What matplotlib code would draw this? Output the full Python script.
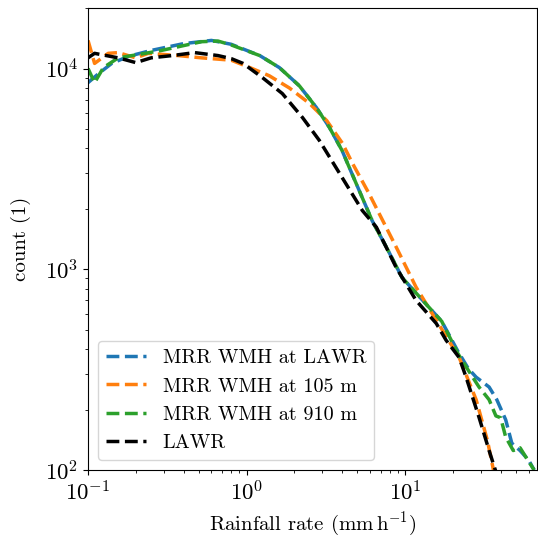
import numpy as np
import matplotlib
matplotlib.use("Agg")
from matplotlib import pyplot as plt

plt.rcParams["font.family"] = "cmr10"
plt.rcParams["mathtext.fontset"] = "cm"
plt.rcParams["axes.formatter.use_mathtext"] = True
plt.rcParams["font.size"] = 15
plt.rcParams["xtick.labelsize"] = 16.5
plt.rcParams["ytick.labelsize"] = 16.5
plt.rcParams["legend.fontsize"] = 14.5

# MRR WMH at LAWR
x_lawr_mrr = [0.1, 0.116, 0.141, 0.18, 0.25, 0.4, 0.6, 0.8, 1.21, 1.61, 2.15, 2.75, 3.33, 4.0,
              4.45, 6.2, 7.6, 9.55, 14.1, 17, 21.5, 25, 28, 33.8, 37.8, 43, 47, 53, 60, 65]
y_lawr_mrr = [8500, 9400, 10600, 11500, 12300, 13300, 13800, 13200, 11600, 10100, 8200, 6400, 5080, 3900,
              3200, 1740, 1290, 910, 647, 550, 390, 320, 290, 259, 224, 178, 136, 125, 112, 100]

# MRR WMH at 105 m
x_105 = [0.1, 0.11, 0.134, 0.155, 0.2, 0.24, 0.37, 0.52, 0.8, 1.05, 1.39, 1.86, 2.49, 3.2,
         4.02, 4.65, 5.9, 8.77, 11.7, 15.7, 21.9, 28, 33, 36]
y_105 = [13800, 10600, 11900, 12000, 11300, 11900, 11600, 11300, 11000, 10100, 9200, 8000, 6700, 5500,
         4240, 3370, 2390, 1290, 815, 557, 363, 224, 140, 100]

# MRR WMH at 910 m
x_910 = [0.1, 0.11, 0.125, 0.155, 0.23, 0.29, 0.52, 0.66, 0.8, 1.21, 1.61, 2.15, 2.75, 3.33, 4.0,
         4.45, 6.2, 7.6, 9.55, 14.1, 17, 21.5, 25.3, 29.2, 33.8, 37.3, 40, 43, 48, 53, 61, 65]
y_910 = [10000, 8500, 10100, 11300, 11900, 12300, 13600, 13700, 13100, 11600, 10100, 8200, 6400, 5080, 3900,
         3200, 1740, 1290, 910, 647, 550, 380, 309, 259, 224, 186, 182, 146, 125, 129, 108, 100]

# LAWR
x_lawr = [0.1, 0.11, 0.155, 0.2, 0.25, 0.34, 0.47, 0.66, 0.8, 0.95, 1.26, 1.68, 2.25, 2.87, 3.67, 5.37,
          6.58, 8.77, 11.7, 15.7, 18.1, 21.9, 24.2, 29.2, 33.8, 37.3]
y_lawr = [11300, 11900, 11300, 10700, 11300, 11600, 12000, 11600, 11200, 10600, 9000, 7500, 5700, 4390, 3200,
          1960, 1620, 1020, 700, 537, 443, 363, 290, 183, 125, 98]

fig = plt.figure(figsize=(5.38, 5.38), dpi=100)
ax = fig.add_axes([0.1636, 0.1264, 0.835, 0.8586])

ax.plot(x_lawr_mrr, y_lawr_mrr, "--", color="C0", lw=2.5, label="MRR WMH at LAWR")
ax.plot(x_105, y_105, "--", color="C1", lw=2.5, label="MRR WMH at 105 m")
ax.plot(x_910, y_910, "--", color="C2", lw=2.5, label="MRR WMH at 910 m")
ax.plot(x_lawr, y_lawr, "--", color="k", lw=2.5, label="LAWR")

ax.set_xscale("log")
ax.set_yscale("log")
ax.set_xlim(0.1, 68)
ax.set_ylim(100, 20000)
ax.set_xlabel(r"Rainfall rate ($\mathrm{mm\,h^{-1}}$)")
ax.set_ylabel("count (1)", labelpad=10)
ax.legend(loc="lower left")

fig.savefig("out.png", dpi=100)
